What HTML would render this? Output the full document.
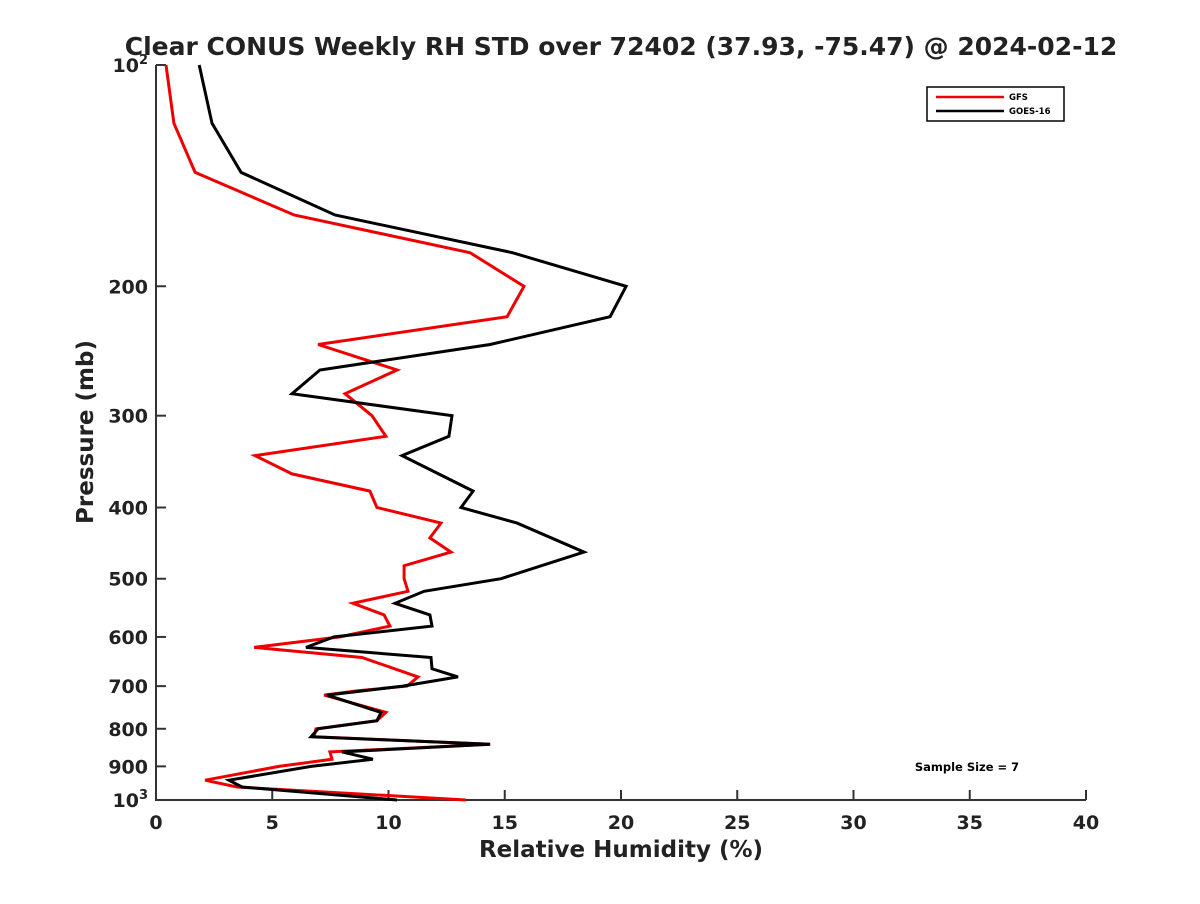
<!DOCTYPE html>
<html><head><meta charset="utf-8"><style>
body{margin:0;background:#fff;font-family:"DejaVu Sans",sans-serif}
</style></head><body>
<svg id="chart" width="1200" height="900" xmlns="http://www.w3.org/2000/svg" font-family="DejaVu Sans, sans-serif">
<rect width="1200" height="900" fill="#fff"/>
<text x="621" y="55" text-anchor="middle" font-size="25" font-weight="bold" fill="#222">Clear CONUS Weekly RH STD over 72402 (37.93, -75.47) @ 2024-02-12</text>
<g id="axes"></g>
<g id="series"></g>
<text x="621" y="857" text-anchor="middle" font-size="23" font-weight="bold" fill="#222">Relative Humidity (%)</text>
<text transform="translate(93,432) rotate(-90)" text-anchor="middle" font-size="23" font-weight="bold" fill="#222">Pressure (mb)</text>
<g>
<rect x="927" y="87" width="137" height="34" fill="#fff" stroke="#000" stroke-width="1.5"/>
<line x1="936" y1="97" x2="1004" y2="97" stroke="#e00" stroke-width="2.5"/>
<text x="1009" y="100" font-size="8.5" font-weight="bold">GFS</text>
<line x1="936" y1="111" x2="1004" y2="111" stroke="#000" stroke-width="2.5"/>
<text x="1009" y="114" font-size="8.5" font-weight="bold">GOES-16</text>
</g>
<text x="967" y="771" text-anchor="middle" font-size="11.5" font-weight="bold">Sample Size = 7</text>
</svg>
<script>
const xTicks=[0,5,10,15,20,25,30,35,40];
const yTicks=[100,200,300,400,500,600,700,800,900,1000];
const gfsP=[100,120,140,160,180,200,220,240,260,280,300,320,340,360,380,400,420,440,460,480,500,520,540,560,580,600,620,640,680,700,710,720,760,780,800,820,840,860,880,900,940,960,1000];
const gfsRH=[0.43,0.77,1.68,5.94,13.5,15.83,15.1,6.97,10.37,8.13,9.29,9.89,4.26,5.85,9.2,9.5,12.26,11.78,12.69,10.67,10.67,10.84,8.47,9.81,10.06,7.91,4.22,8.86,11.27,10.8,8.69,7.23,9.89,9.5,6.88,6.8,14.37,7.48,7.57,5.29,2.11,3.48,13.33];
const goesP=[100,120,140,160,180,200,220,240,260,280,300,320,340,380,400,420,460,500,520,540,560,580,600,620,640,663,680,700,720,760,780,800,820,840,860,880,900,940,960,1000];
const goesRH=[1.86,2.41,3.66,7.7,15.31,20.22,19.53,14.37,7.05,5.85,12.73,12.6,10.58,13.64,13.12,15.53,18.41,14.84,11.53,10.28,11.78,11.87,7.66,6.45,11.83,11.87,12.99,10.62,7.35,9.68,9.5,6.97,6.67,14.37,8.0,9.33,6.67,3.14,3.7,10.37];
const L=156,R=1086,T=65,B=800;
const xs=v=>L+(v-0)/(40-0)*(R-L);
const ys=p=>T+Math.log10(p/100)*(B-T);
const NS='http://www.w3.org/2000/svg';
function mk(tag,attrs,parent){const e=document.createElementNS(NS,tag);for(const k in attrs)e.setAttribute(k,attrs[k]);parent.appendChild(e);return e;}
const ax=document.getElementById('axes');
const xa=mk('path',{d:`M${L},${T}V${B}H${R}`,fill:'none',stroke:'#333','stroke-width':2},ax);


xTicks.forEach(t=>{const x=xs(t);
 mk('line',{x1:x,y1:B,x2:x,y2:B-10,stroke:'#333','stroke-width':2},ax);
 const tx=mk('text',{x:x,y:B+29,'text-anchor':'middle','font-size':19,'font-weight':'bold',fill:'#222'},ax);
 
 
 tx.textContent=t;});
yTicks.forEach(p=>{const y=ys(p);
 mk('line',{x1:L,y1:y,x2:L+10,y2:y,stroke:'#333','stroke-width':2},ax);
 const tx=mk('text',{x:L-8,y:y+7,'text-anchor':'end','font-size':19,'font-weight':'bold',fill:'#222'},ax);
 
 
 if(p===100){tx.innerHTML='10<tspan font-size="13" dy="-8">2</tspan>';}
 else if(p===1000){tx.innerHTML='10<tspan font-size="13" dy="-8">3</tspan>';}
 else tx.textContent=p;});
const sg=document.getElementById('series');
function line(P,V,color,name){
 const d=P.map((p,i)=>(i?'L':'M')+xs(V[i]).toFixed(1)+','+ys(p).toFixed(1)).join('');
 const e=mk('path',{d:d,fill:'none',stroke:color,'stroke-width':3,'stroke-linejoin':'miter'},sg);
 
 
}
line(gfsP,gfsRH,'#e00','gfs-line');
line(goesP,goesRH,'#000','goes16-line');
</script>
</body></html>
